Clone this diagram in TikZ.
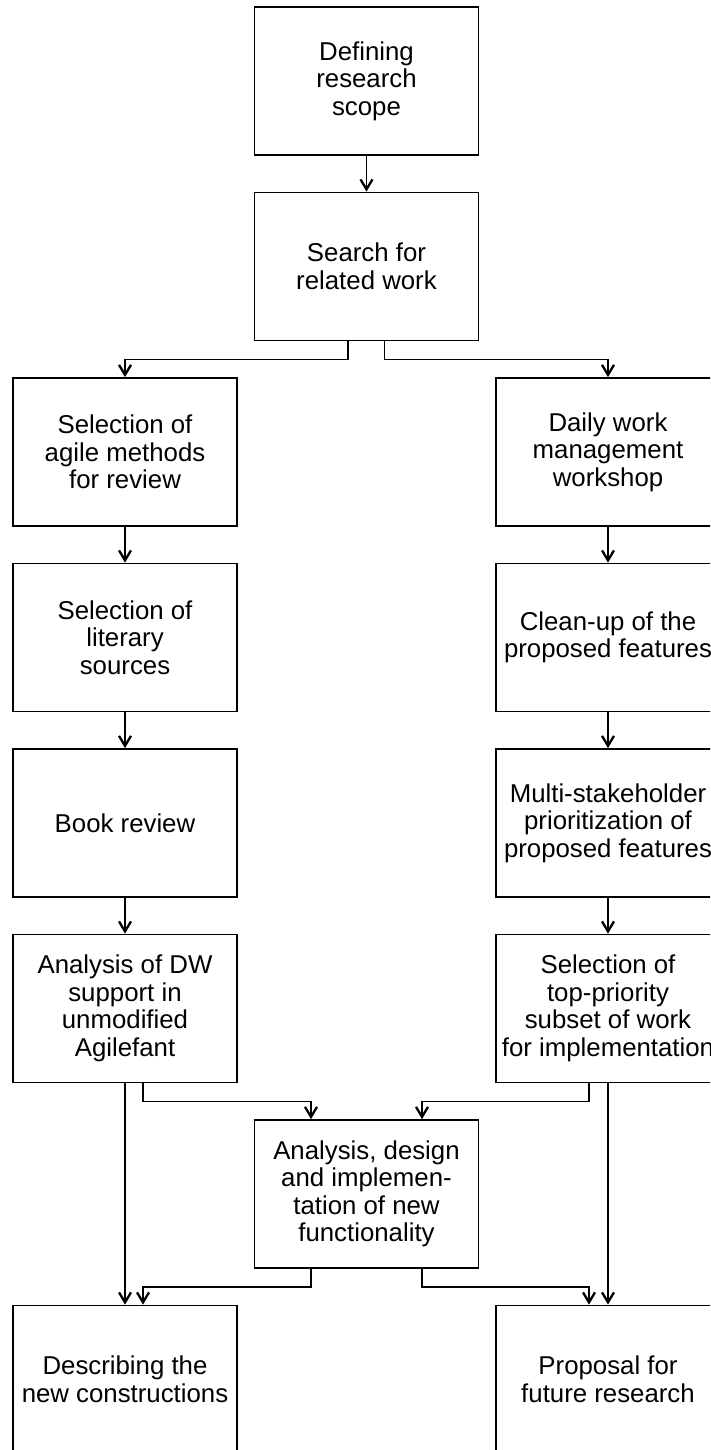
\documentclass[tikz,border=0pt]{standalone}
\usepackage{fontspec}
\setmainfont{Liberation Sans}
\usetikzlibrary{arrows.meta}
\tikzset{
  stepbox/.style={draw=black, line width=1.8pt, rectangle, inner sep=0pt,
    minimum width=224pt, minimum height=148pt, align=center,
    font=\fontsize{25.8pt}{27.5pt}\selectfont},
  flow/.style={draw=black, line width=1.8pt,
    -{Straight Barb[length=10pt,width=12pt,line width=2.3pt]}},
}
\begin{document}
\begin{tikzpicture}[x=1pt, y=-1pt]
\useasboundingbox (0,0) rectangle (710,1450);
\clip (0,0) rectangle (710,1450);
\fill[white] (0,0) rectangle (710,1450);

% top chain
\node[stepbox] (scope)  at (366.5,81)   {Defining\\research\\scope};
\node[stepbox] (search) at (366.5,266.5) {Search for\\related work};

% left column
\node[stepbox] (agile)   at (125,452)    {Selection of\\agile methods\\for review};
\node[stepbox] (sources) at (125,637.5)  {Selection of\\literary\\sources};
\node[stepbox] (book)    at (125,823)    {Book review};
\node[stepbox] (dw)      at (125,1008.5) {Analysis of DW\\support in\\unmodified\\Agilefant};

% right column
\node[stepbox] (workshop) at (608,452)    {Daily work\\management\\workshop};
\node[stepbox] (cleanup)  at (608,637.5)  {Clean-up of the\\proposed features};
\node[stepbox] (prio)     at (608,823)    {Multi-stakeholder\\prioritization of\\proposed features};
\node[stepbox] (subset)   at (608,1008.5) {Selection of\\top-priority\\subset of work\\for implementation};

% middle and final row
\node[stepbox] (impl)     at (366.5,1194) {Analysis, design\\and implemen-\\tation of new\\functionality};
\node[stepbox] (describe) at (125,1379.5) {Describing the\\new constructions};
\node[stepbox] (future)   at (608,1379.5) {Proposal for\\future research};

% connectors
\draw[flow] (scope) -- (search);
\draw[flow] ([xshift=-18.5pt]search.south) -- ++(0,18) -| (agile.north);
\draw[flow] ([xshift=18pt]search.south) -- ++(0,18) -| (workshop.north);

\draw[flow] (agile) -- (sources);
\draw[flow] (sources) -- (book);
\draw[flow] (book) -- (dw);

\draw[flow] (workshop) -- (cleanup);
\draw[flow] (cleanup) -- (prio);
\draw[flow] (prio) -- (subset);

\draw[flow] ([xshift=18pt]dw.south) -- ++(0,18) -| ([xshift=-55.5pt]impl.north);
\draw[flow] ([xshift=-19pt]subset.south) -- ++(0,18) -| ([xshift=55.5pt]impl.north);

\draw[flow] (dw.south) -- (describe.north);
\draw[flow] (subset.south) -- (future.north);

\draw[flow] ([xshift=-55.5pt]impl.south) -- ++(0,18) -| ([xshift=18pt]describe.north);
\draw[flow] ([xshift=55.5pt]impl.south) -- ++(0,18) -| ([xshift=-19pt]future.north);
\end{tikzpicture}
\end{document}
